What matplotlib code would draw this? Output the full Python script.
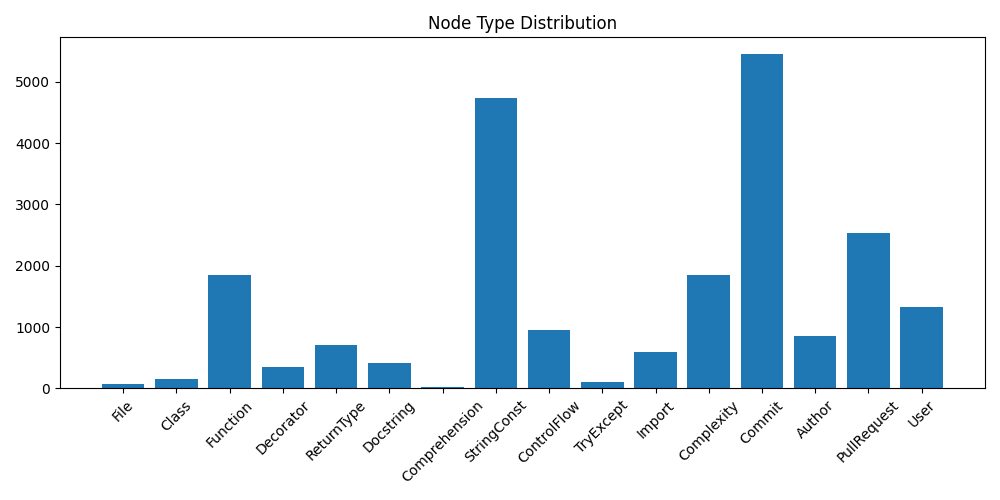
import matplotlib.pyplot as plt

node_types = ["File", "Class", "Function", "Decorator", "ReturnType", "Docstring",
              "Comprehension", "StringConst", "ControlFlow", "TryExcept", "Import",
              "Complexity", "Commit", "Author", "PullRequest", "User"]
counts = [70, 150, 1855, 345, 705, 415, 20, 4730, 950, 100, 590, 1855, 5450, 850, 2540, 1330]

fig, ax = plt.subplots(figsize=(10, 5))
ax.bar(node_types, counts)
ax.set_title("Node Type Distribution")
plt.xticks(rotation=45)
plt.tight_layout()
plt.savefig("out.png", dpi=100)
